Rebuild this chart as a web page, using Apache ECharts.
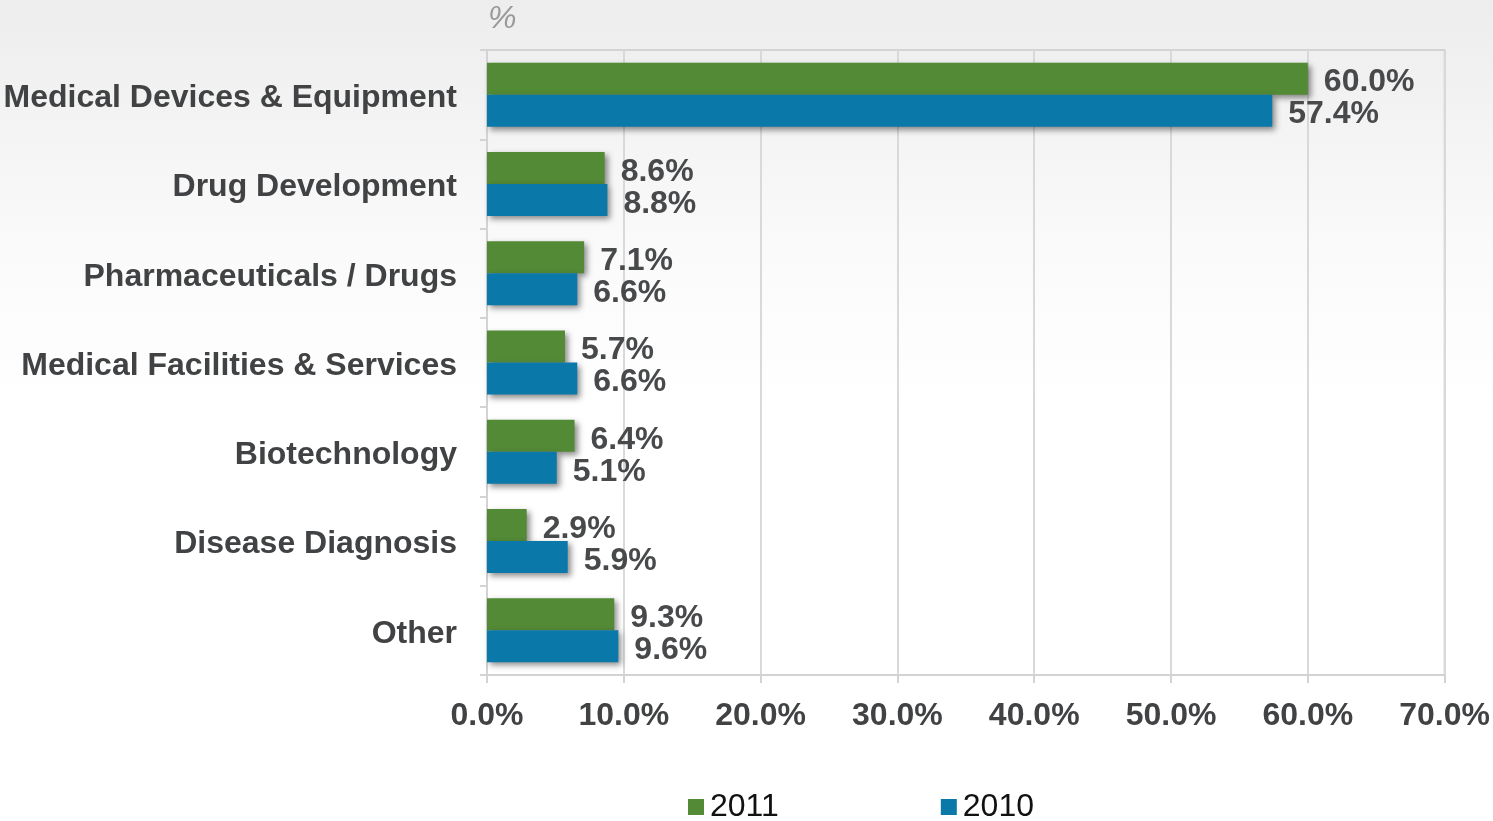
<!DOCTYPE html>
<html>
<head>
<meta charset="utf-8">
<script src="https://cdn.jsdelivr.net/npm/echarts@6/dist/echarts.min.js"></script>
<style>
  html, body { margin: 0; padding: 0; }
  #chart { width: 1493px; height: 821px; }
</style>
</head>
<body>
<div id="chart"></div>
<script>
// Sector shares, top to bottom
const categories = [
  'Medical Devices & Equipment',
  'Drug Development',
  'Pharmaceuticals / Drugs',
  'Medical Facilities & Services',
  'Biotechnology',
  'Disease Diagnosis',
  'Other'
];
const values2011 = [60.0, 8.6, 7.1, 5.7, 6.4, 2.9, 9.3];
const values2010 = [57.4, 8.8, 6.6, 6.6, 5.1, 5.9, 9.6];
const xTicks = [0, 10, 20, 30, 40, 50, 60, 70];

const chart = echarts.init(document.getElementById('chart'));

const fontFamily = 'Liberation Sans, Arial, sans-serif';
const textColor = '#404244';
const barShadow = {
  shadowColor: 'rgba(0,0,0,0.45)',
  shadowBlur: 6,
  shadowOffsetX: 3,
  shadowOffsetY: 3
};
const valueLabel = {
  show: true,
  position: 'right',
  distance: 16,
  offset: [0, 4],
  color: '#47494b',
  fontFamily: fontFamily,
  fontWeight: 'bold',
  fontSize: 32,
  formatter: p => p.value.toFixed(1) + '%'
};

chart.setOption({
  backgroundColor: {
    type: 'linear', x: 0, y: 0, x2: 0, y2: 1,
    colorStops: [
      { offset: 0, color: '#ededed' },
      { offset: 0.3, color: '#fafafa' },
      { offset: 0.5, color: '#ffffff' },
      { offset: 1, color: '#ffffff' }
    ]
  },
  animation: false,
  grid: {
    left: 487, right: 48, top: 50, bottom: 146,
    show: true, borderColor: '#d3d3d3', borderWidth: 2,
    backgroundColor: 'transparent'
  },
  graphic: [{
    type: 'text',
    left: 488, top: 3,
    style: {
      text: '%',
      fill: '#9a9a9a',
      fontFamily: fontFamily,
      fontStyle: 'italic',
      fontSize: 32
    }
  }],
  legend: {
    top: 786,
    left: 683,
    itemGap: 162,
    itemWidth: 16,
    itemHeight: 16,
    icon: 'rect',
    textStyle: {
      color: '#111',
      fontFamily: fontFamily,
      fontSize: 32,
      padding: [0, 0, 0, 1]
    },
    data: ['2011', '2010']
  },
  xAxis: {
    type: 'value',
    min: 0, max: 70, interval: 10,
    axisLine: { show: true, lineStyle: { color: '#d3d3d3', width: 2 } },
    axisTick: { show: true, length: 8, lineStyle: { color: '#d3d3d3', width: 2 } },
    splitLine: { show: true, lineStyle: { color: '#d9d9d9', width: 2 } },
    axisLabel: {
      margin: 25,
      color: textColor,
      fontFamily: fontFamily,
      fontWeight: 'bold',
      fontSize: 32,
      customValues: xTicks,
      formatter: v => v.toFixed(1) + '%'
    }
  },
  yAxis: {
    type: 'category',
    inverse: true,
    data: categories,
    axisLine: { show: true, lineStyle: { color: '#d3d3d3', width: 2 } },
    axisTick: { show: true, length: 7, lineStyle: { color: '#d3d3d3', width: 2 } },
    axisLabel: {
      margin: 30,
      color: textColor,
      fontFamily: fontFamily,
      fontWeight: 'bold',
      fontSize: 32,
      formatter: v => '{c|' + v + '}',
      rich: {
        c: {
          color: textColor,
          fontFamily: fontFamily,
          fontWeight: 'bold',
          fontSize: 32,
          padding: [7, 0, 0, 0]
        }
      }
    }
  },
  series: [
    {
      name: '2011',
      type: 'bar',
      data: values2011,
      barWidth: 32,
      barGap: '0%',
      itemStyle: Object.assign({ color: '#538a36' }, barShadow),
      label: valueLabel
    },
    {
      name: '2010',
      type: 'bar',
      data: values2010,
      barWidth: 32,
      barGap: '0%',
      itemStyle: Object.assign({ color: '#0a78a9' }, barShadow),
      label: valueLabel
    }
  ]
});
</script>
</body>
</html>
